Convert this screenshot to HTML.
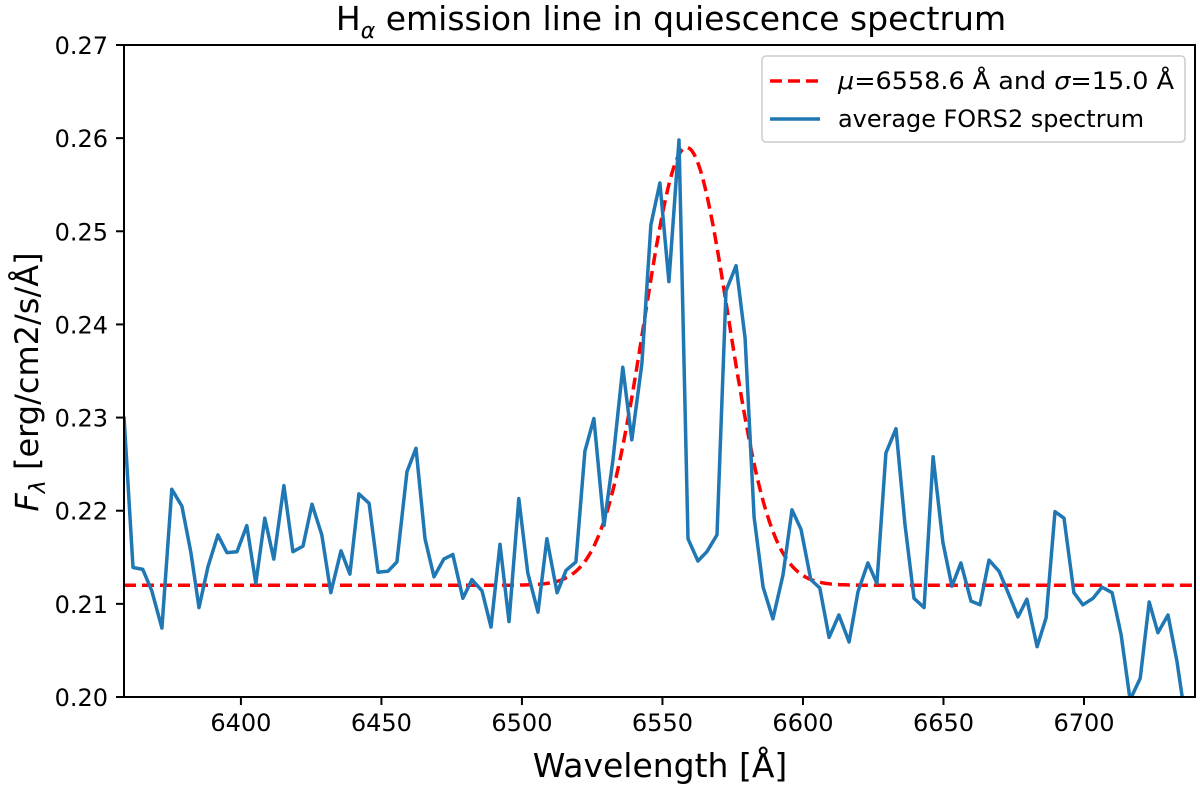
<!DOCTYPE html>
<html><head><meta charset="utf-8"><style>
html,body{margin:0;padding:0;background:#fff;}
svg{display:block;font-family:"DejaVu Sans","Liberation Sans",sans-serif;}
</style></head><body>
<svg id="chart" width="1200" height="790" viewBox="0 0 1200 790">
<defs><clipPath id="clip"><rect x="124" y="45" width="1071" height="652"/></clipPath></defs>
<text x="671" y="30" text-anchor="middle" font-size="33">H<tspan font-size="22" font-style="italic" dy="8">α</tspan><tspan dy="-8"> emission line in quiescence spectrum</tspan></text>
<g id="plot" clip-path="url(#clip)"></g>
<g id="axes"></g>
<text x="660" y="777" text-anchor="middle" font-size="33">Wavelength [Å]</text>
<text transform="translate(38,382) rotate(-90)" text-anchor="middle" font-size="32"><tspan font-style="italic">F</tspan><tspan font-style="italic" font-size="22" dy="7">λ</tspan><tspan dy="-7"> [erg/cm2/s/Å]</tspan></text>
<g>
<rect x="762" y="56" width="423" height="86" rx="4" fill="#fff" fill-opacity="0.8" stroke="#ccc" stroke-width="1.5"/>
<line x1="770" y1="81" x2="820" y2="81" stroke="#ff0000" stroke-width="3.5" stroke-dasharray="12,6"/>
<text x="838" y="89" font-size="24" textLength="336" lengthAdjust="spacingAndGlyphs"><tspan font-style="italic">μ</tspan>=6558.6 Å and <tspan font-style="italic">σ</tspan>=15.0 Å</text>
<line x1="770" y1="119" x2="820" y2="119" stroke="#1f77b4" stroke-width="3.5"/>
<text x="838" y="127" font-size="24" textLength="306" lengthAdjust="spacingAndGlyphs">average FORS2 spectrum</text>
</g>
</svg>
<script>
const wavelengths = [6358.4,6361.6,6365.1,6368.3,6371.9,6375.4,6379.0,6382.2,6385.1,6388.3,6391.8,6395.0,6398.6,6402.1,6405.3,6408.5,6411.7,6415.3,6418.5,6422.1,6425.3,6428.8,6432.0,6435.6,6438.8,6442.0,6445.6,6448.8,6452.3,6455.5,6459.1,6462.3,6465.5,6468.7,6472.2,6475.4,6479.0,6482.2,6485.8,6489.0,6492.2,6495.4,6498.9,6502.1,6505.7,6508.9,6512.5,6515.7,6519.2,6522.4,6525.6,6529.2,6532.4,6535.9,6539.1,6542.7,6545.9,6549.1,6552.3,6555.9,6559.1,6562.6,6565.8,6569.4,6572.6,6576.2,6579.4,6582.6,6585.8,6589.3,6592.9,6596.1,6599.3,6602.8,6606.0,6609.3,6612.8,6616.4,6619.6,6623.1,6626.3,6629.5,6633.1,6636.3,6639.5,6643.1,6646.3,6649.8,6653.0,6656.2,6659.8,6663.0,6666.2,6669.8,6673.0,6676.5,6679.7,6683.3,6686.5,6689.7,6692.9,6696.4,6699.6,6703.2,6706.4,6710.0,6713.2,6716.4,6720.0,6723.2,6726.3,6729.9,6733.1,6735.2];
const fluxValues = [0.2301,0.2139,0.2137,0.2114,0.2074,0.2223,0.2205,0.2155,0.2096,0.2140,0.2174,0.2155,0.2156,0.2184,0.2122,0.2192,0.2148,0.2227,0.2156,0.2162,0.2207,0.2174,0.2112,0.2157,0.2132,0.2218,0.2208,0.2134,0.2135,0.2145,0.2242,0.2267,0.2170,0.2129,0.2148,0.2153,0.2106,0.2126,0.2114,0.2075,0.2164,0.2081,0.2213,0.2133,0.2091,0.2170,0.2112,0.2136,0.2145,0.2264,0.2299,0.2184,0.2255,0.2354,0.2276,0.2358,0.2507,0.2552,0.2446,0.2598,0.2170,0.2146,0.2156,0.2174,0.2436,0.2463,0.2385,0.2193,0.2118,0.2084,0.2131,0.2201,0.2180,0.2126,0.2117,0.2064,0.2088,0.2059,0.2113,0.2144,0.2122,0.2262,0.2288,0.2185,0.2106,0.2096,0.2258,0.2166,0.2119,0.2144,0.2103,0.2099,0.2147,0.2135,0.2112,0.2086,0.2105,0.2054,0.2085,0.2199,0.2192,0.2112,0.2099,0.2106,0.2118,0.2112,0.2067,0.1997,0.2020,0.2102,0.2069,0.2088,0.2038,0.1995];
const gaussParams = [0.212, 0.047, 6558.6, 15.0]; // baseline, amplitude, mu, sigma
const xTicks = [6400,6450,6500,6550,6600,6650,6700];
const yTicks = [0.20,0.21,0.22,0.23,0.24,0.25,0.26,0.27];
const xDomain = [6358.4, 6739.5];
const yDomain = [0.20, 0.27];

const L=124,R=1195,T=45,B=697;
const NS='http://www.w3.org/2000/svg';
const sx = v => L + (v - xDomain[0]) / (xDomain[1]-xDomain[0]) * (R-L);
const sy = v => B - (v - yDomain[0]) / (yDomain[1]-yDomain[0]) * (B-T);
function mk(tag, attrs, parent){const e=document.createElementNS(NS,tag);for(const k in attrs)e.setAttribute(k,attrs[k]);parent.appendChild(e);return e;}
const plot=document.getElementById('plot'), axes=document.getElementById('axes');

let gp=[];
for(let w=xDomain[0]; w<=xDomain[1]; w+=0.5){
  const f=gaussParams[0]+gaussParams[1]*Math.exp(-Math.pow(w-gaussParams[2],2)/(2*gaussParams[3]*gaussParams[3]));
  gp.push(sx(w).toFixed(1)+','+sy(f).toFixed(1));
}
const g=mk('polyline',{points:gp.join(' '),fill:'none',stroke:'#ff0000','stroke-width':3.5,'stroke-dasharray':'12,6'},plot);



const sp=mk('polyline',{points:wavelengths.map((w,i)=>sx(w).toFixed(1)+','+sy(fluxValues[i]).toFixed(1)).join(' '),fill:'none',stroke:'#1f77b4','stroke-width':3.5,'stroke-linejoin':'round'},plot);



const fr=mk('rect',{x:L,y:T,width:R-L,height:B-T,fill:'none',stroke:'#000','stroke-width':2},axes);



xTicks.forEach(t=>{
  const x=sx(t);
  const tk=mk('line',{x1:x,y1:B,x2:x,y2:B+8,stroke:'#000','stroke-width':2},axes);
  
  
  const lb=mk('text',{x:x,y:B+34,'text-anchor':'middle','font-size':24},axes);
  lb.textContent=t;
  
  
});
yTicks.forEach(t=>{
  const y=sy(t);
  const tk=mk('line',{x1:L-8,y1:y,x2:L,y2:y,stroke:'#000','stroke-width':2},axes);
  
  
  const lb=mk('text',{x:L-16,y:y+9,'text-anchor':'end','font-size':24},axes);
  lb.textContent=t.toFixed(2);
  
  
});
</script>
</body></html>
